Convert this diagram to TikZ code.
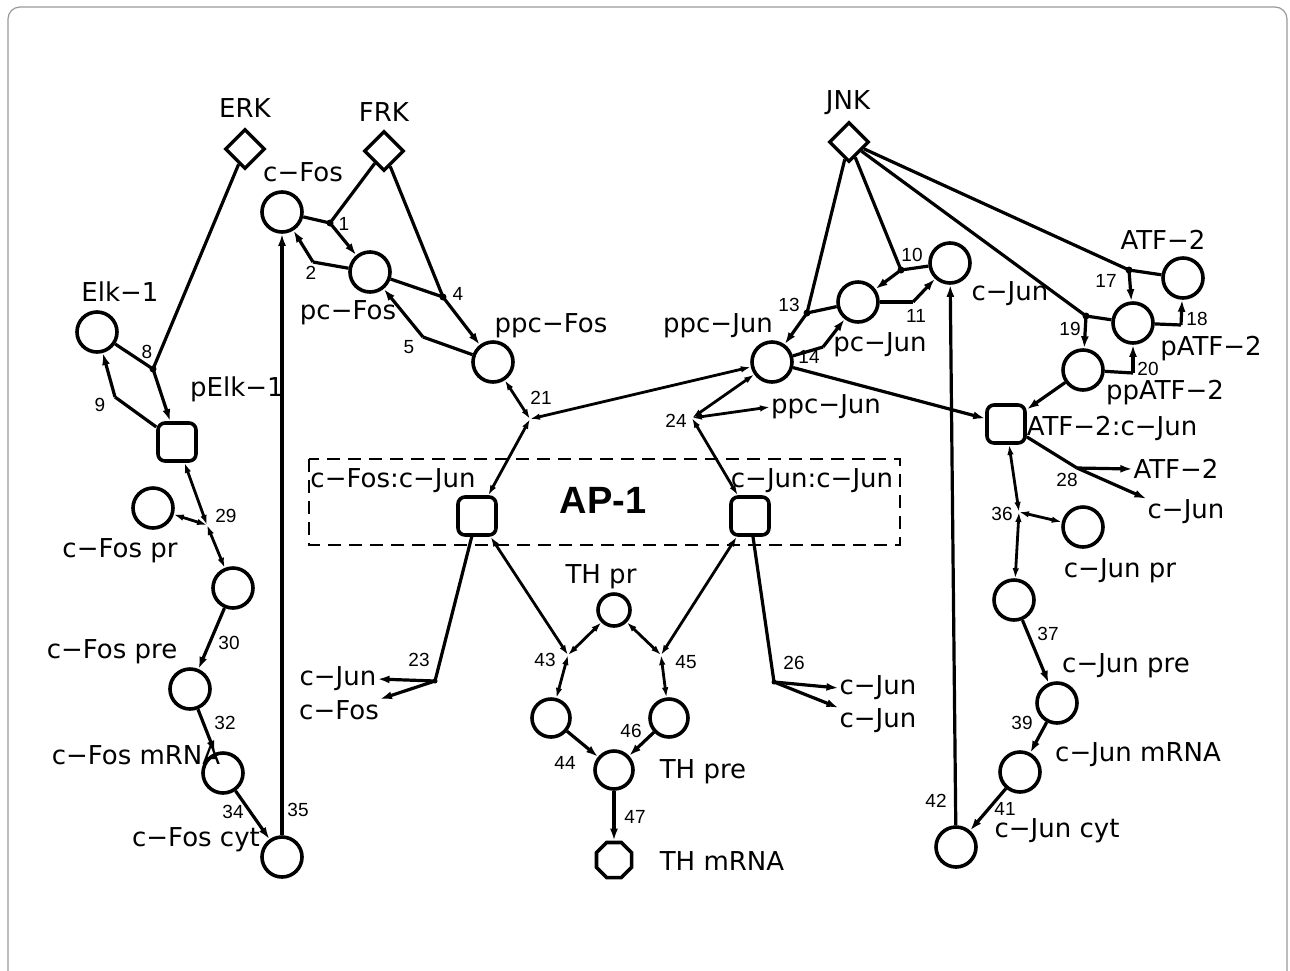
\documentclass[tikz,border=0pt]{standalone}
\usepackage{fontspec}
\setmainfont{DejaVu Sans}
\newfontfamily\numfont{Liberation Sans}
\usetikzlibrary{arrows.meta,shapes.geometric}
\begin{document}
\begin{tikzpicture}[x=1pt,y=-1pt,
  sp/.style={circle,draw,line width=3.6pt,minimum size=40pt,inner sep=0pt},
  cplx/.style={rectangle,rounded corners=7pt,draw,line width=3.6pt,minimum size=38pt,inner sep=0pt},
  kin/.style={diamond,draw,line width=3.4pt,minimum size=40pt,inner sep=0pt},
  gene/.style={regular polygon,regular polygon sides=8,draw,line width=3.6pt,minimum size=40pt,inner sep=0pt},
  lbl/.style={font=\fontsize{26}{30}\selectfont,inner sep=1pt},
  num/.style={font=\numfont\fontsize{19}{21}\selectfont,inner sep=0pt},
  rx/.style={line width=3.2pt},
  ar/.style={rx,-{Latex[length=12pt,width=8pt]}},
  bi/.style={line width=2.8pt,{Latex[length=10pt,width=6.5pt]}-{Latex[length=10pt,width=6.5pt]}},
  dot/.style={circle,fill,inner sep=0pt,minimum size=7pt}
]
\useasboundingbox (0,0) rectangle (1290,970);
% frame
\draw[gray!80,line width=1.2pt,rounded corners=12pt] (8,980) -- (8,7) -- (1287,7) -- (1287,980);

% ---- species ----
\node[kin] (ERK) at (245,149) {};
\node[kin] (FRK) at (384,151) {};
\node[kin] (JNK) at (849,142) {};
\node[sp] (cFos) at (282,212) {};
\node[sp] (pcFos) at (370,272) {};
\node[sp] (ppcFos) at (493,362) {};
\node[sp] (Elk) at (97,332) {};
\node[cplx] (pElk) at (177,442) {};
\node[sp] (cFospr) at (153,508) {};
\node[sp] (cFosg) at (233,588) {};
\node[sp] (cFospre) at (190,689) {};
\node[sp] (cFosmRNA) at (223,773) {};
\node[sp] (cFoscyt) at (282,857) {};
\node[sp] (ppcJun) at (772,362) {};
\node[sp] (pcJun) at (858,302) {};
\node[sp] (cJun) at (950,263) {};
\node[sp] (ATF) at (1183,278) {};
\node[sp] (pATF) at (1133,323) {};
\node[sp] (ppATF) at (1083,370) {};
\node[cplx] (AC) at (1006,424) {};
\node[cplx] (FJ) at (477,516) {};
\node[cplx] (JJ) at (750,516) {};
\node[sp] (cJunpr) at (1083,527) {};
\node[sp] (cJung) at (1014,600) {};
\node[sp] (cJunpre) at (1057,703) {};
\node[sp] (cJunmRNA) at (1020,772) {};
\node[sp] (cJuncyt) at (956,847) {};
\node[sp,minimum size=32pt] (THpr) at (614,610) {};
\node[sp,minimum size=38pt] (THa) at (551,718) {};
\node[sp,minimum size=38pt] (THb) at (669,718) {};
\node[sp,minimum size=38pt] (THpre) at (614,770) {};
\node[gene,minimum size=38pt] (THm) at (614,860) {};

% AP-1 box
\draw[line width=2.8pt,dash pattern=on 13pt off 8pt] (309,459) rectangle (900,545);
\node[font=\numfont\bfseries\fontsize{38}{40}\selectfont,inner sep=0pt] (ap1) at (603,500) {AP-1};

% ---- labels ----
\node[lbl] (lERK) at (245,108) {ERK};
\node[lbl] (lFRK) at (384,112) {FRK};
\node[lbl] (lJNK) at (848,103) {JNK};
\node[lbl] (lcFos) at (303,172) {c−Fos};
\node[lbl] (lElk) at (120,292) {Elk−1};
\node[lbl] (lpcFos) at (348,313) {pc−Fos};
\node[lbl] (lppcFos) at (551,326) {ppc−Fos};
\node[lbl] (lpElk) at (237,389) {pElk−1};
\node[lbl] (lppcJun) at (718,326) {ppc−Jun};
\node[lbl] (lpcJun) at (880,345) {pc−Jun};
\node[lbl] (lcJun) at (1010,294) {c−Jun};
\node[lbl] (lATF) at (1163,240) {ATF−2};
\node[lbl] (lpATF) at (1211,349) {pATF−2};
\node[lbl] (lppATF) at (1165,393) {ppATF−2};
\node[lbl] (lAC) at (1112,428) {ATF−2:c−Jun};
\node[lbl] (lppcJunB) at (826,407) {ppc−Jun};
\node[lbl] (lFJ) at (393,481) {c−Fos:c−Jun};
\node[lbl] (lJJ) at (812,481) {c−Jun:c−Jun};
\node[lbl] (lATF28) at (1176,469) {ATF−2};
\node[lbl] (lcJun28) at (1186,512) {c−Jun};
\node[lbl] (lcFospr) at (120,551) {c−Fos pr};
\node[lbl] (lcJunpr) at (1120,571) {c−Jun pr};
\node[lbl] (lTHpr) at (601,577) {TH pr};
\node[lbl] (lcFospre) at (112,652) {c−Fos pre};
\node[lbl] (lcJunpre) at (1126,666) {c−Jun pre};
\node[lbl] (lcJun23) at (338,679) {c−Jun};
\node[lbl] (lcFos23) at (339,710) {c−Fos};
\node[lbl] (lcJun26a) at (878,688) {c−Jun};
\node[lbl] (lcJun26b) at (878,721) {c−Jun};
\node[lbl] (lcFosmRNA) at (136,755) {c−Fos mRNA};
\node[lbl] (lcJunmRNA) at (1138,755) {c−Jun mRNA};
\node[lbl] (lTHpre) at (703,772) {TH pre};
\node[lbl] (lcFoscyt) at (196,840) {c−Fos cyt};
\node[lbl] (lcJuncyt) at (1057,831) {c−Jun cyt};
\node[lbl] (lTHm) at (722,861) {TH mRNA};

% ---- reaction points ----
\coordinate (r1) at (330,223);
\coordinate (r2) at (313,262);
\coordinate (r4) at (443,297);
\coordinate (r5) at (423,337);
\coordinate (r8) at (153,369);
\coordinate (r9) at (115,397);
\coordinate (r10) at (901,270);
\coordinate (r11) at (913,302);
\coordinate (r13) at (807,313);
\coordinate (r14) at (823,347);
\coordinate (r17) at (1129,270);
\coordinate (r18) at (1181,325);
\coordinate (r19) at (1086,316);
\coordinate (r20) at (1133,373);
\coordinate (r21) at (530,419);
\coordinate (r24) at (692,418);
\coordinate (r23) at (435,681);
\coordinate (r26) at (774,682);
\coordinate (r28) at (1077,468);
\coordinate (r29) at (207,525);
\coordinate (r36) at (1019,512);
\coordinate (r43) at (568,655);
\coordinate (r45) at (661,655);

% ---- reaction numbers ----
\node[num] (n1) at (344,224) {1};
\node[num] (n2) at (311,273) {2};
\node[num] (n4) at (458,294) {4};
\node[num] (n5) at (409,347) {5};
\node[num] (n8) at (147,352) {8};
\node[num] (n9) at (100,405) {9};
\node[num] (n10) at (912,255) {10};
\node[num] (n11) at (916,316) {11};
\node[num] (n13) at (789,305) {13};
\node[num] (n14) at (809,357) {14};
\node[num] (n17) at (1106,281) {17};
\node[num] (n18) at (1197,319) {18};
\node[num] (n19) at (1070,329) {19};
\node[num] (n20) at (1148,369) {20};
\node[num] (n21) at (541,398) {21};
\node[num] (n24) at (676,421) {24};
\node[num] (n23) at (419,660) {23};
\node[num] (n26) at (794,663) {26};
\node[num] (n28) at (1067,480) {28};
\node[num] (n29) at (226,516) {29};
\node[num] (n30) at (229,643) {30};
\node[num] (n32) at (225,723) {32};
\node[num] (n34) at (233,812) {34};
\node[num] (n35) at (298,810) {35};
\node[num] (n36) at (1002,514) {36};
\node[num] (n37) at (1048,634) {37};
\node[num] (n39) at (1022,723) {39};
\node[num] (n41) at (1005,809) {41};
\node[num] (n42) at (936,801) {42};
\node[num] (n43) at (545,660) {43};
\node[num] (n44) at (565,763) {44};
\node[num] (n45) at (686,662) {45};
\node[num] (n46) at (631,731) {46};
\node[num] (n47) at (635,817) {47};

% ---- connectors ----
% Fos phosphorylation
\draw[rx] (cFos) -- (r1); \draw[ar] (r1) -- (pcFos); \draw[rx] (FRK) -- (r1);
\draw[rx] (pcFos) -- (r2); \draw[ar] (r2) -- (cFos);
\draw[rx] (pcFos) -- (r4); \draw[ar] (r4) -- (ppcFos); \draw[rx] (FRK) -- (r4);
\draw[rx] (ppcFos) -- (r5); \draw[ar] (r5) -- (pcFos);
% Elk
\draw[rx] (Elk) -- (r8); \draw[ar] (r8) -- (pElk); \draw[rx] (ERK) -- (r8);
\draw[rx] (pElk) -- (r9); \draw[ar] (r9) -- (Elk);
% Jun phosphorylation
\draw[rx] (cJun) -- (r10); \draw[ar] (r10) -- (pcJun); \draw[rx] (JNK) -- (r10);
\draw[rx] (pcJun) -- (r11); \draw[ar] (r11) -- (cJun);
\draw[rx] (pcJun) -- (r13); \draw[ar] (r13) -- (ppcJun); \draw[rx] (JNK) -- (r13);
\draw[rx] (ppcJun) -- (r14); \draw[ar] (r14) -- (pcJun);
% ATF-2
\draw[rx] (ATF) -- (r17); \draw[ar] (r17) -- (pATF); \draw[rx] (JNK) -- (r17);
\draw[rx] (pATF) -- (r18); \draw[ar] (r18) -- (ATF);
\draw[rx] (pATF) -- (r19); \draw[ar] (r19) -- (ppATF); \draw[rx] (JNK) -- (r19);
\draw[rx] (ppATF) -- (r20); \draw[ar] (r20) -- (pATF);
\draw[ar] (ppATF) -- (AC);
\draw[ar] (ppcJun) -- (AC);
% dimers
\draw[bi] (ppcFos) -- (r21); \draw[bi] (ppcJun) -- (r21); \draw[bi] (r21) -- (FJ);
\draw[bi] (ppcJun) -- (r24); \draw[bi] (lppcJunB.west) -- (r24); \draw[bi] (r24) -- (JJ);
% degradation
\draw[rx] (FJ) -- (r23); \draw[ar] (r23) -- (lcJun23.east); \draw[ar] (r23) -- (lcFos23.north east);
\draw[rx] (JJ) -- (r26); \draw[ar] (r26) -- (lcJun26a.west); \draw[ar] (r26) -- (lcJun26b.north west);
\draw[rx] (AC) -- (r28); \draw[ar] (r28) -- (lcJun28.north west); \draw[ar] (r28) -- (lATF28.west);
% c-Fos transcription
\draw[bi] (pElk) -- (r29); \draw[bi] (cFospr) -- (r29); \draw[bi] (r29) -- (cFosg);
\draw[ar] (cFosg) -- (cFospre);
\draw[ar] (cFospre) -- (cFosmRNA);
\draw[ar] (cFosmRNA) -- (cFoscyt);
\draw[ar] (cFoscyt) -- (cFos);
% c-Jun transcription
\draw[bi] (AC) -- (r36); \draw[bi] (cJunpr) -- (r36); \draw[bi] (r36) -- (cJung);
\draw[ar] (cJung) -- (cJunpre);
\draw[ar] (cJunpre) -- (cJunmRNA);
\draw[ar] (cJunmRNA) -- (cJuncyt);
\draw[ar] (cJuncyt) -- (cJun);
% TH
\draw[bi] (FJ) -- (r43); \draw[bi] (THpr) -- (r43); \draw[bi] (r43) -- (THa);
\draw[bi] (JJ) -- (r45); \draw[bi] (THpr) -- (r45); \draw[bi] (r45) -- (THb);
\draw[ar] (THa) -- (THpre);
\draw[ar] (THb) -- (THpre);
\draw[ar] (THpre) -- (THm);

% modifier dots
\foreach \p in {r1,r4,r8,r10,r13,r17,r19} \node[dot] at (\p) {};
\foreach \p in {r23,r26} \node[dot,minimum size=5pt] at (\p) {};
\end{tikzpicture}
\end{document}
